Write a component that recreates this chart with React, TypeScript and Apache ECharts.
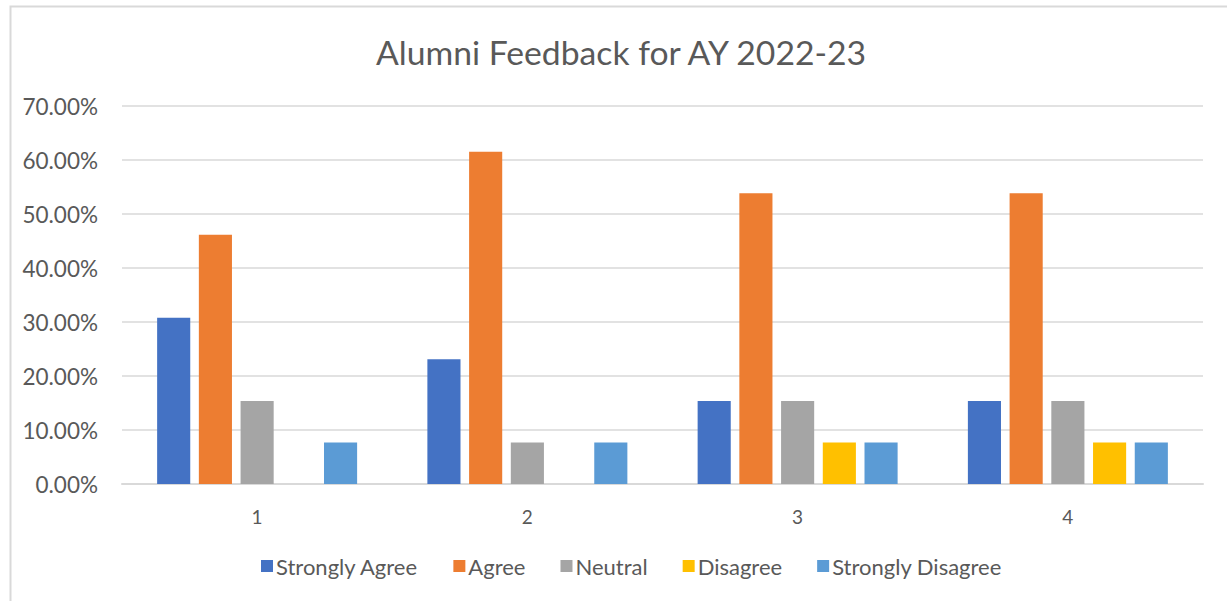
import React, { useEffect, useRef } from "react";
import * as echarts from "echarts";

const categories = ["1", "2", "3", "4"];
const seriesNames = ["Strongly Agree", "Agree", "Neutral", "Disagree", "Strongly Disagree"];
const stronglyAgree = [30.77, 23.08, 15.38, 15.38];
const agree = [46.15, 61.54, 53.85, 53.85];
const neutral = [15.38, 7.69, 15.38, 15.38];
const disagree = [0, 0, 7.69, 7.69];
const stronglyDisagree = [7.69, 7.69, 7.69, 7.69];
const colors = ["#4472C4", "#ED7D31", "#A5A5A5", "#FFC000", "#5B9BD5"];

export default function App() {
  const ref = useRef<HTMLDivElement>(null);
  useEffect(() => {
    const chart = echarts.init(ref.current!, null, { renderer: "svg" });
    const data = [stronglyAgree, agree, neutral, disagree, stronglyDisagree];
    const font = "Lato, 'Open Sans', sans-serif";
    chart.setOption({
      animation: false,
      backgroundColor: "#ffffff",
      color: colors,
      textStyle: { fontFamily: font },
      graphic: [
        {
          type: "rect",
          shape: { x: 10.5, y: 6.5, width: 1240, height: 620 },
          style: { fill: "none", stroke: "#d9d9d9", lineWidth: 2 },
        },
      ],
      title: {
        text: "Alumni Feedback for AY 2022-23",
        left: 371,
        top: 30,
        textStyle: { fontFamily: font, fontSize: 33.7, fontWeight: "normal", color: "#595959" },
      },
      legend: {
        data: seriesNames,
        top: 550,
        left: 256,
        itemWidth: 12,
        itemHeight: 12,
        itemGap: 35,
        icon: "rect",
        textStyle: { fontFamily: font, fontSize: 22, color: "#595959", padding: [0, 0, 0, -2] },
      },
      grid: { left: 122, right: 24, top: 106, bottom: 117, containLabel: false },
      xAxis: {
        type: "category",
        data: categories,
        axisTick: { show: false },
        axisLine: { lineStyle: { color: "#d9d9d9", width: 2 } },
        axisLabel: { color: "#595959", fontSize: 19, margin: 23, fontFamily: font },
      },
      yAxis: {
        type: "value",
        min: 0,
        max: 70,
        interval: 10,
        axisLabel: {
          color: "#595959",
          fontSize: 22.5,
          margin: 24,
          fontFamily: font,
          formatter: (v: number) => v.toFixed(2) + "%",
        },
        splitLine: { lineStyle: { color: "#d9d9d9", width: 1.5 } },
        axisLine: { show: false },
        axisTick: { show: false },
      },
      series: seriesNames.map((name, i) => ({
        name,
        type: "bar",
        data: data[i],
        barGap: "26%",
        barCategoryGap: "26%",
        itemStyle: { color: colors[i] },
      })),
    });
    return () => chart.dispose();
  }, []);
  return (
    <div
      ref={ref}
      style={{ position: "fixed", left: 0, top: 0, width: 1227, height: 601 }}
    />
  );
}
